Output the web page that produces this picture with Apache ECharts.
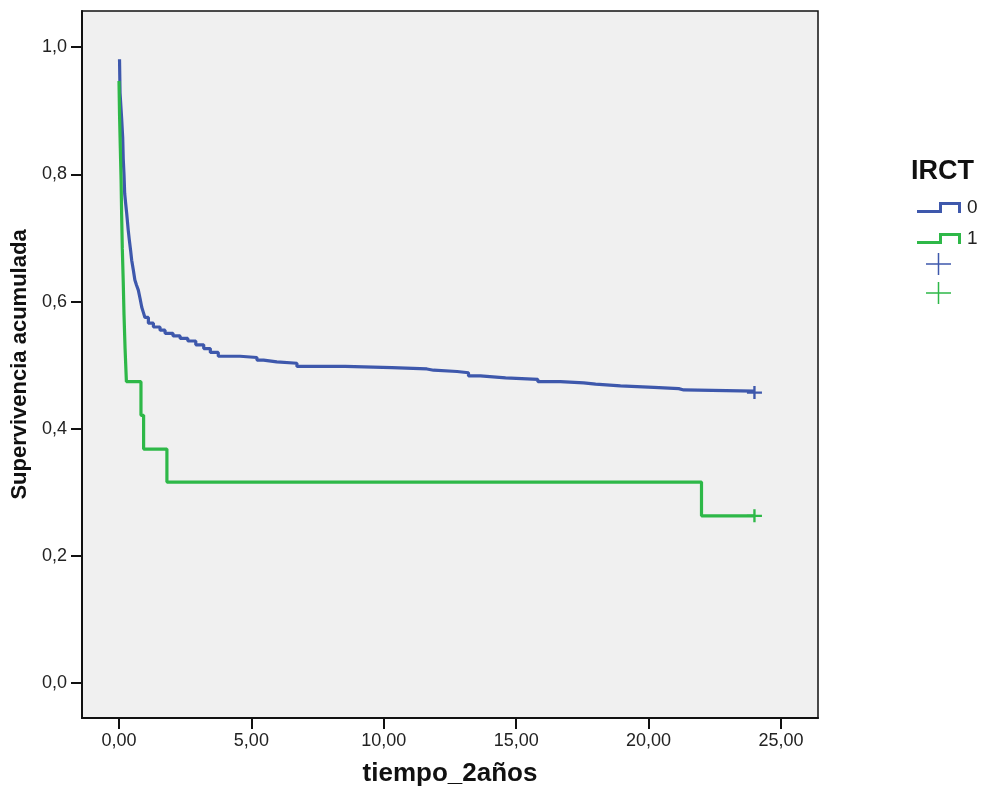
<!DOCTYPE html>
<html>
<head>
<meta charset="utf-8">
<script src="https://cdn.jsdelivr.net/npm/echarts@6/dist/echarts.min.js"></script>
<style>
  html, body { margin: 0; padding: 0; background: #fff; }
  #chart { width: 984px; height: 787px; }
</style>
</head>
<body>
<div id="chart"></div>
<script>
  // tick labels
  var xTicks = [0, 5, 10, 15, 20, 25];
  var yTicks = [0, 0.2, 0.4, 0.6, 0.8, 1.0];

  // IRCT = 0 (blue) - each survival value starts at its time
  var time0 = [0.02, 0.04, 0.10, 0.14, 0.16, 0.19, 0.215, 0.25, 0.29, 0.35, 0.39, 0.44, 0.48, 0.54,
    0.60, 0.66, 0.73, 0.80, 0.86, 0.92, 0.98, 1.11, 1.30, 1.55, 1.74, 2.04, 2.31, 2.6, 2.9, 3.2,
    3.45, 3.75, 4.57, 5.21, 5.46, 5.96, 6.72, 8.54, 10.31, 11.63, 11.88, 12.77, 13.2, 13.65,
    14.6, 15.82, 16.67, 17.55, 18.0, 18.94, 20.2, 21.14, 21.33, 24.0];
  var surv0 = [0.981, 0.928, 0.888, 0.858, 0.825, 0.799, 0.770, 0.755, 0.739, 0.712, 0.697, 0.680, 0.665, 0.650,
    0.634, 0.626, 0.618, 0.604, 0.591, 0.583, 0.575, 0.566, 0.560, 0.555, 0.550, 0.546, 0.542, 0.538, 0.532, 0.526,
    0.520, 0.514, 0.512, 0.508, 0.505, 0.503, 0.498, 0.496, 0.494, 0.492, 0.490, 0.488, 0.483, 0.480,
    0.4775, 0.474, 0.472, 0.470, 0.4675, 0.465, 0.463, 0.461, 0.459, 0.459];

  // IRCT = 1 (green)
  var time1 = [0, 0.02, 0.05, 0.08, 0.10, 0.125, 0.16, 0.19, 0.23, 0.28, 0.83, 0.93, 1.81, 22.0, 24.0];
  var surv1 = [0.947, 0.895, 0.842, 0.789, 0.737, 0.684, 0.632, 0.579, 0.526, 0.474, 0.421, 0.368, 0.316, 0.263, 0.263];

  // censored cases
  var censorTime0 = [24.0];
  var censorSurv0 = [0.457];
  var censorTime1 = [24.0];
  var censorSurv1 = [0.263];

  var FONT = 'Liberation Sans, Arial, sans-serif';
  var BLUE = '#3e58ac';
  var GREEN = '#2eb848';
  var stepIcon = 'path://M0,8L22,8L22,0L44,0L44,11L41,11L41,3L25,3L25,11L0,11Z';
  var plusIcon = 'path://M0,10.25H25V11.75H0Z M11.75,0H13.25V22H11.75Z';
  var plusMark = 'path://M0,5H14V7.2H0Z M5.9,0H8.1V12H5.9Z';

  function zip(a, b) {
    var out = [];
    for (var i = 0; i < a.length; i++) out.push([a[i], b[i]]);
    return out;
  }

  function fmt(v, d) {
    return v.toFixed(d).replace('.', ',');
  }

  var chart = echarts.init(document.getElementById('chart'));

  var option = {
    animation: false,
    backgroundColor: '#fff',
    title: {
      text: 'IRCT',
      left: 911,
      top: 158,
      padding: 0,
      textStyle: { fontFamily: FONT, fontSize: 27, fontWeight: 'bold', color: '#111' }
    },
    legend: [
      {
        orient: 'vertical',
        left: 917,
        top: 198,
        padding: 0,
        itemWidth: 44,
        itemHeight: 11,
        itemGap: 12,
        selectedMode: false,
        data: [
          { name: '0', icon: stepIcon },
          { name: '1', icon: stepIcon }
        ],
        textStyle: { fontFamily: FONT, fontSize: 19, color: '#222', padding: [0, 0, 0, 1] }
      },
      {
        orient: 'vertical',
        left: 926,
        top: 253,
        padding: 0,
        itemWidth: 25,
        itemHeight: 22,
        itemGap: 7,
        selectedMode: false,
        formatter: function () { return ''; },
        data: [
          { name: 'Censurado 0', icon: plusIcon, itemStyle: { opacity: 1 } },
          { name: 'Censurado 1', icon: plusIcon, itemStyle: { opacity: 1 } }
        ]
      }
    ],
    grid: {
      left: 82,
      right: 166,
      top: 11,
      bottom: 69,
      outerBoundsMode: 'none',
      containLabel: false,
      show: true,
      backgroundColor: '#f0f0f0',
      borderColor: '#111',
      borderWidth: 1.5
    },
    xAxis: {
      type: 'value',
      min: -1.397,
      max: 26.40,
      name: 'tiempo_2años',
      nameLocation: 'middle',
      nameGap: 43,
      nameTextStyle: { fontFamily: FONT, fontSize: 26, fontWeight: 'bold', color: '#111' },
      axisLine: { show: true, onZero: false, lineStyle: { color: '#111', width: 2 } },
      axisTick: { show: true, length: 11, customValues: xTicks, lineStyle: { color: '#111', width: 2 } },
      axisLabel: {
        customValues: xTicks,
        margin: 14,
        fontFamily: FONT,
        fontSize: 18,
        color: '#222',
        formatter: function (v) { return fmt(v, 2); }
      },
      splitLine: { show: false }
    },
    yAxis: {
      type: 'value',
      min: -0.055,
      max: 1.057,
      name: 'Supervivencia acumulada',
      nameLocation: 'middle',
      nameGap: 50,
      nameTextStyle: { fontFamily: FONT, fontSize: 22, fontWeight: 'bold', color: '#111' },
      axisLine: { show: true, onZero: false, lineStyle: { color: '#111', width: 2 } },
      axisTick: { show: true, length: 11, customValues: yTicks, lineStyle: { color: '#111', width: 2 } },
      axisLabel: {
        customValues: yTicks,
        margin: 15,
        fontFamily: FONT,
        fontSize: 18,
        color: '#222',
        formatter: function (v) { return fmt(v, 1); }
      },
      splitLine: { show: false }
    },
    series: [
      {
        name: '0',
        type: 'line',
        step: 'end',
        showSymbol: false,
        color: BLUE,
        lineStyle: { color: BLUE, width: 3.2 },
        data: zip(time0, surv0)
      },
      {
        name: '1',
        type: 'line',
        step: 'end',
        showSymbol: false,
        color: GREEN,
        lineStyle: { color: GREEN, width: 3.2 },
        data: zip(time1, surv1)
      },
      {
        name: 'Censurado 0',
        type: 'scatter',
        symbol: plusMark,
        symbolSize: [15, 13],
        color: BLUE,
        itemStyle: { color: BLUE, opacity: 1 },
        data: zip(censorTime0, censorSurv0)
      },
      {
        name: 'Censurado 1',
        type: 'scatter',
        symbol: plusMark,
        symbolSize: [15, 13],
        color: GREEN,
        itemStyle: { color: GREEN, opacity: 1 },
        data: zip(censorTime1, censorSurv1)
      }
    ]
  };

  chart.setOption(option);
</script>
</body>
</html>
